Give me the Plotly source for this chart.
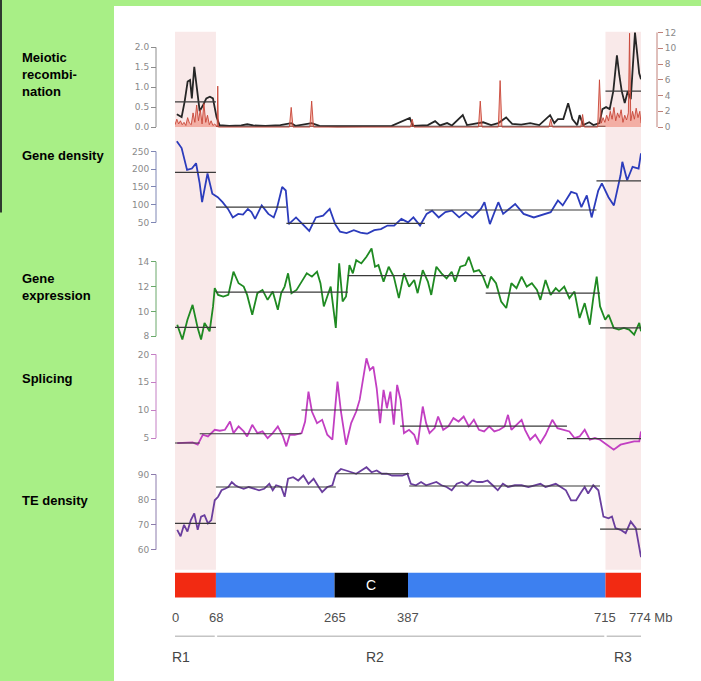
import plotly.graph_objects as go

# ---------------- data ----------------
chrom_bounds = [0, 68, 265, 387, 715, 774]
chrom_colors = ["#f22a12", "#3d80f0", "#000000", "#3d80f0", "#f22a12"]
chrom_tick_vals = [0, 68, 265, 387, 715, 774]
chrom_tick_text = ["0", "68", "265", "387", "715", "774 Mb"]
region_bounds = [0, 68, 715, 774]
region_names = ["R1", "R2", "R3"]
region_label_mb = [10, 332, 744]
centromere_mb = 326
shade_regions = [(0, 68), (715, 774)]

# Meiotic recombination (black line, left axis)
recomb_mb = [3, 8, 11, 16, 21, 25, 28, 32, 37, 41, 47, 52, 58, 63, 69, 74, 90, 110, 120, 130,
             150, 175, 193, 200, 227, 240, 270, 300, 330, 360, 390, 395, 420, 432, 440, 452, 460,
             478, 485, 500, 512, 525, 537, 550, 560, 575, 590, 605, 623, 630, 636, 645, 653, 660,
             668, 672, 678, 688, 695, 705, 710, 716, 722, 728, 734, 738, 742, 747, 752, 757, 761,
             764, 768, 771, 774]
recomb_val = [0.32, 0.28, 0.25, 0.64, 1.14, 1.18, 0.72, 1.51, 0.89, 0.40, 0.56, 0.72, 0.76, 0.72,
              0.25, 0.05, 0.03, 0.04, 0.07, 0.04, 0.03, 0.05, 0.10, 0.03, 0.10, 0.03, 0.02, 0.02,
              0.02, 0.03, 0.23, 0.03, 0.05, 0.15, 0.04, 0.10, 0.04, 0.30, 0.05, 0.08, 0.12, 0.05,
              0.10, 0.24, 0.08, 0.06, 0.10, 0.05, 0.30, 0.10, 0.20, 0.20, 0.60, 0.20, 0.05, 0.30,
              0.05, 0.12, 0.05, 0.10, 0.45, 0.50, 0.45, 0.90, 1.80, 1.30, 0.90, 0.60, 0.90, 0.70,
              1.60, 2.37, 1.80, 1.35, 1.20]
recomb_seg_bounds = [0, 68, 715, 774]
recomb_seg_means = [0.63, 0.02, 0.9]

# Red series (right axis)
red_mb = [0, 3, 6, 9, 12, 15, 18, 21, 24, 27, 30, 33, 36, 39, 42, 45, 48, 51, 54, 57, 60, 63, 66,
          69, 70, 71, 72, 190, 193, 196, 224, 227, 230, 391, 394, 397, 504, 507, 510, 537, 540, 543,
          621, 624, 627, 674, 677, 680, 702, 705, 708, 711, 714, 717, 720, 723, 726, 729, 732, 735,
          738, 741, 744, 747, 750, 753, 755, 757, 760, 763, 766, 769, 772, 774]
red_val = [0.3, 1.0, 0.4, 0.8, 0.3, 0.6, 0.2, 1.2, 0.5, 0.3, 1.8, 0.6, 2.8, 0.8, 2.2, 0.4, 3.0, 0.6,
           1.5, 0.3, 0.8, 0.2, 0.4, 0.0, 0.0, 5.2, 0.0, 0.0, 2.5, 0.0, 0.0, 3.3, 0.0, 0.0, 1.0, 0.0,
           0.0, 3.3, 0.0, 0.0, 5.9, 0.0, 0.0, 1.0, 0.0, 0.0, 1.6, 0.0, 0.0, 6.0, 0.5, 1.2, 0.6, 1.5,
           0.8, 2.0, 1.0, 2.5, 0.8, 1.8, 1.2, 2.2, 0.6, 1.5, 0.9, 1.8, 11.9, 0.8, 2.0, 1.0, 2.4, 1.2,
           2.0, 0.5]

# Gene density
gd_mb = [3, 11, 20, 28, 35, 41, 45, 54, 62, 71, 79, 88, 96, 105, 113, 121, 127, 133, 144, 155,
         164, 169, 178, 184, 189, 201, 209, 223, 234, 246, 257, 266, 274, 285, 297, 308, 319, 331,
         342, 353, 364, 376, 387, 396, 407, 418, 427, 438, 449, 460, 472, 483, 494, 508, 514, 523,
         537, 545, 565, 579, 596, 613, 624, 636, 644, 658, 667, 675, 684, 692, 703, 709, 720, 729,
         740, 743, 751, 760, 770, 774]
gd_val = [279, 260, 198, 202, 217, 160, 107, 188, 131, 121, 107, 88, 64, 74, 72, 88, 79, 60, 98, 74,
          64, 88, 150, 140, 45, 64, 50, 26, 64, 69, 88, 45, 24, 20, 28, 21, 18, 28, 31, 41,
          41, 60, 50, 64, 41, 74, 83, 64, 79, 83, 64, 79, 64, 88, 107, 45, 107, 74, 102, 74,
          64, 74, 79, 112, 98, 136, 131, 93, 126, 64, 140, 160, 121, 98, 183, 221, 169, 207, 202, 245]
gd_seg_bounds = [0, 68, 185, 415, 700, 774]
gd_seg_means = [191, 93, 47, 85, 167]

# Gene expression
ge_mb = [3.7, 12.2, 20.7, 29.2, 37.7, 43.3, 49.0, 57.5, 63.2, 66.0, 71.6, 80.1, 88.6, 97.1, 105.6,
         114.1, 119.8, 128.3, 136.8, 145.3, 153.8, 162.3, 170.8, 176.4, 182.1, 187.8, 193.4, 201.9,
         210.4, 218.9, 227.4, 235.9, 241.6, 247.2, 252.9, 258.6, 267.1, 272.7, 278.4, 284.1, 289.7,
         295.4, 301.0, 309.5, 318.0, 326.5, 332.2, 337.9, 346.4, 354.9, 363.4, 371.8, 380.3, 388.8,
         397.3, 403.0, 411.5, 420.0, 425.6, 434.1, 442.6, 451.1, 459.6, 465.3, 473.8, 482.3, 487.9,
         496.4, 504.9, 510.6, 519.1, 524.7, 533.2, 541.7, 550.2, 558.7, 567.2, 575.7, 584.2, 592.7,
         601.2, 606.9, 615.4, 623.9, 632.4, 638.0, 646.5, 655.0, 663.5, 672.0, 680.5, 689.0, 694.7,
         700.4, 706.0, 714.5, 720.2, 728.7, 737.2, 745.7, 754.2, 762.6, 771.1, 774]
ge_val = [8.93, 7.73, 9.33, 10.53, 8.67, 7.73, 9.07, 8.40, 10.4, 11.87, 11.33, 11.2, 11.33, 13.2,
          12.27, 12.0, 11.33, 9.73, 11.47, 11.73, 10.93, 11.6, 10.13, 11.47, 12.0, 13.07, 11.47,
          11.73, 12.4, 13.07, 12.8, 13.2, 12.27, 10.4, 11.2, 12.0, 8.67, 13.87, 10.8, 11.2, 13.73,
          13.07, 14.13, 13.87, 14.4, 15.07, 13.6, 13.73, 12.4, 13.6, 12.8, 11.07, 13.07, 12.0,
          12.53, 11.47, 13.33, 12.4, 11.33, 13.6, 13.07, 12.67, 13.2, 12.4, 13.6, 13.73, 14.4,
          13.2, 13.33, 12.93, 11.87, 12.8, 12.27, 10.8, 10.27, 12.27, 11.87, 12.8, 12.0, 12.27,
          11.73, 10.93, 12.53, 11.33, 11.87, 11.6, 12.0, 11.07, 11.6, 9.47, 10.67, 8.93, 11.07,
          12.8, 10.4, 9.33, 9.73, 8.67, 8.53, 8.67, 8.53, 8.13, 9.07, 8.4]
ge_seg_bounds = [0, 68, 287, 516, 706, 774]
ge_seg_means = [8.72, 11.55, 12.88, 11.47, 8.67]

# Splicing
sp_mb = [3.7, 15.0, 29.2, 37.7, 46.2, 54.7, 60.3, 66.0, 74.5, 83.0, 91.4, 97.1, 105.6, 114.1, 119.8,
         128.3, 136.8, 145.3, 153.8, 162.3, 170.8, 179.3, 184.9, 190.6, 199.1, 210.4, 216.1, 221.7,
         227.4, 235.9, 244.4, 252.9, 261.4, 269.9, 275.6, 284.1, 292.6, 301.0, 306.7, 312.4, 318.0,
         323.7, 329.4, 335.0, 340.7, 346.4, 352.0, 357.7, 363.4, 369.0, 374.7, 380.3, 388.8, 397.3,
         403.0, 411.5, 417.1, 422.8, 431.3, 437.0, 445.5, 454.0, 462.5, 471.0, 479.5, 488.0, 496.4,
         504.9, 513.4, 521.9, 530.4, 538.9, 547.4, 553.1, 558.7, 567.2, 575.7, 581.4, 589.9, 598.4,
         606.9, 615.4, 626.7, 635.2, 646.5, 655.0, 663.5, 672.0, 680.5, 689.0, 697.5, 706.0, 717.3,
         728.7, 740.0, 751.3, 762.6, 771.1, 774]
sp_val = [4.11, 4.11, 4.23, 3.82, 5.60, 5.30, 5.90, 6.49, 6.32, 6.49, 7.98, 5.90, 7.09, 6.20, 5.30,
          7.39, 5.90, 6.20, 5.01, 5.90, 7.09, 5.30, 3.52, 5.60, 5.60, 5.90, 7.98, 13.34, 9.77, 7.68,
          8.28, 5.60, 4.71, 15.12, 9.77, 3.82, 7.68, 9.77, 11.85, 15.72, 19.29, 17.20, 17.80, 13.93,
          7.68, 13.63, 10.36, 13.34, 7.39, 14.53, 11.85, 5.90, 6.49, 5.60, 3.82, 10.66, 7.68, 5.90,
          6.79, 8.87, 6.49, 7.09, 8.58, 7.98, 8.87, 7.09, 8.28, 6.49, 6.20, 7.09, 6.20, 6.49, 7.09,
          9.17, 6.49, 7.39, 8.28, 6.49, 4.71, 5.60, 4.11, 5.60, 8.28, 6.79, 6.49, 6.20, 5.01, 5.30,
          6.49, 4.71, 5.01, 4.71, 3.82, 2.92, 3.82, 4.11, 4.41, 4.41, 6.20]
sp_seg_bounds = [0, 41, 210, 374, 651, 774]
sp_seg_means = [4.12, 5.78, 10.04, 7.14, 4.89]

# TE density
te_mb = [3.7, 9.3, 15.0, 20.7, 26.3, 32.0, 37.7, 43.3, 49.0, 54.7, 60.3, 66.0, 71.6, 77.3, 83.0,
         88.6, 94.3, 100.0, 105.6, 114.1, 122.6, 131.1, 139.6, 148.1, 156.6, 162.3, 167.9, 176.4,
         182.1, 187.8, 196.3, 204.7, 213.2, 221.7, 230.2, 238.7, 244.4, 252.9, 261.4, 267.1, 275.6,
         284.1, 292.6, 301.0, 309.5, 318.0, 326.5, 335.0, 343.5, 352.0, 360.5, 369.0, 377.5, 386.0,
         391.7, 400.2, 408.7, 417.1, 425.6, 434.1, 442.6, 451.1, 459.6, 468.1, 476.6, 485.1, 493.6,
         502.1, 510.6, 519.1, 527.6, 536.1, 544.6, 553.1, 564.4, 575.7, 587.0, 598.4, 606.9, 615.4,
         623.9, 632.4, 640.8, 649.3, 657.8, 666.3, 674.8, 680.5, 686.2, 694.7, 703.2, 711.6, 720.1,
         725.8, 731.5, 740.0, 748.5, 757.0, 765.4, 770, 774]
te_val = [67.9, 65.3, 69.9, 67.2, 71.8, 74.5, 67.9, 73.2, 73.8, 70.5, 71.8, 79.7, 81.1, 83.7, 84.3,
          85.0, 87.0, 85.7, 85.0, 84.3, 85.0, 84.3, 83.7, 84.3, 86.3, 83.7, 85.7, 85.0, 81.1, 88.3,
          88.9, 87.6, 89.6, 86.3, 88.3, 85.0, 83.0, 85.0, 85.7, 90.3, 92.2, 91.6, 90.9, 90.3, 91.6,
          92.9, 90.9, 91.6, 90.3, 90.3, 89.6, 89.6, 89.6, 90.3, 86.3, 85.7, 87.0, 85.7, 86.3, 87.0,
          85.7, 85.0, 83.7, 86.3, 87.0, 85.7, 87.6, 87.0, 87.0, 87.6, 85.7, 83.7, 86.3, 85.0, 85.7,
          85.7, 85.0, 85.7, 86.3, 85.0, 85.7, 86.3, 85.0, 83.7, 79.7, 79.7, 83.0, 85.0, 82.4, 85.7,
          83.7, 73.2, 72.5, 73.2, 68.6, 67.9, 66.6, 71.2, 68.6, 62.6, 57.0]
te_seg_bounds = [0, 68, 267, 389, 706, 774]
te_seg_means = [70.5, 85.0, 90.3, 85.4, 68.2]

panel_labels = ["Meiotic<br>recombi-<br>nation", "Gene density", "Gene<br>expression",
                "Splicing", "TE density"]

# ---------------- layout helpers ----------------
W, H = 701, 681
GREEN = "#a8ef86"
def fy(px):
    return 1 - px / H
def fx(px):
    return px / W

fig = go.Figure()

def seg_trace(bounds, means, yaxis):
    xs, ys = [], []
    for i, m in enumerate(means):
        xs += [bounds[i], bounds[i + 1], None]
        ys += [m, m, None]
    return go.Scatter(x=xs, y=ys, mode="lines", yaxis=yaxis, hoverinfo="skip",
                      line=dict(color="#3a3a3a", width=1.2), showlegend=False)

# recombination
fig.add_trace(go.Scatter(x=red_mb, y=red_val, yaxis="y2", mode="lines", fill="tozeroy",
                         fillcolor="rgba(235,85,60,0.40)",
                         line=dict(color="rgba(200,70,55,0.9)", width=1), showlegend=False))
fig.add_trace(go.Scatter(x=recomb_mb, y=recomb_val, yaxis="y", mode="lines",
                         line=dict(color="#262626", width=1.8), showlegend=False))
fig.add_trace(seg_trace(recomb_seg_bounds, recomb_seg_means, "y"))

fig.add_trace(go.Scatter(x=gd_mb, y=gd_val, yaxis="y3", mode="lines",
                         line=dict(color="#2c3cbc", width=1.8), showlegend=False))
fig.add_trace(seg_trace(gd_seg_bounds, gd_seg_means, "y3"))

fig.add_trace(go.Scatter(x=ge_mb, y=ge_val, yaxis="y4", mode="lines",
                         line=dict(color="#1f8a22", width=1.8), showlegend=False))
fig.add_trace(seg_trace(ge_seg_bounds, ge_seg_means, "y4"))

fig.add_trace(go.Scatter(x=sp_mb, y=sp_val, yaxis="y5", mode="lines",
                         line=dict(color="#c23fc2", width=1.8), showlegend=False))
fig.add_trace(seg_trace(sp_seg_bounds, sp_seg_means, "y5"))

fig.add_trace(go.Scatter(x=te_mb, y=te_val, yaxis="y6", mode="lines",
                         line=dict(color="#6a3e9e", width=1.8), showlegend=False))
fig.add_trace(seg_trace(te_seg_bounds, te_seg_means, "y6"))

tickfont = dict(family="DejaVu Sans", size=9, color="#8a8a8a")
LEFT_AX = 156
RIGHT_AX = 657

def yax(domain_px, rng, tickvals, ticktext, color, side="left", pos=LEFT_AX, overlay=None):
    d = dict(domain=[fy(domain_px[0]), fy(domain_px[1])], range=rng, anchor="free",
             position=fx(pos), side=side, tickvals=tickvals, ticktext=ticktext,
             showgrid=False, zeroline=False, showline=False, ticks="outside", ticklen=5,
             tickwidth=1, tickcolor=color, tickfont=tickfont, fixedrange=True)
    if overlay:
        d["overlaying"] = overlay
        d.pop("domain")
    return d

axis_specs = {
    "yaxis": ((128, 27.6), [-0.05, 2.45], [0, 0.5, 1, 1.5, 2], ["0.0", "0.5", "1.0", "1.5", "2.0"], "#8c8c8c"),
    "yaxis3": ((234.5, 136.4), [15, 290], [50, 100, 150, 200, 250], None, "#7f86b4"),
    "yaxis4": ((346.7, 241.7), [7.2, 15.6], [8, 10, 12, 14], None, "#6aa86a"),
    "yaxis5": ((456.2, 349.4), [2.0, 21], [5, 10, 15, 20], None, "#c47ec4"),
    "yaxis6": ((564.3, 465.9), [55, 94], [60, 70, 80, 90], None, "#8c7cac"),
}
layout_axes = {}
for name, (dpx, rng, tv, tt, col) in axis_specs.items():
    layout_axes[name] = yax(dpx, rng, tv, tt if tt else [str(v) for v in tv], col)
layout_axes["yaxis2"] = yax((128, 27.6), [-0.25, 12.39], [0, 2, 4, 6, 8, 10, 12],
                            ["0", "2", "4", "6", "8", "10", "12"], "#c08078",
                            side="right", pos=RIGHT_AX, overlay="y")

shapes = []
# green left column and top strip, dark strip at far left
shapes.append(dict(type="rect", xref="paper", yref="paper", x0=-0.05, x1=fx(114), y0=-0.05, y1=1.05,
                   fillcolor=GREEN, line=dict(width=0), layer="below"))
shapes.append(dict(type="rect", xref="paper", yref="paper", x0=fx(113), x1=1.05, y0=fy(4), y1=1.05,
                   fillcolor=GREEN, line=dict(width=0), layer="below"))
shapes.append(dict(type="rect", xref="paper", yref="paper", x0=-0.01, x1=fx(2), y0=fy(212), y1=1.01,
                   fillcolor="#2f3a2f", line=dict(width=0), layer="below"))
# shaded regions
for a, b in shade_regions:
    shapes.append(dict(type="rect", xref="x", yref="paper", x0=a, x1=b, y0=fy(572), y1=fy(30),
                       fillcolor="#f9e9e9", line=dict(width=0), layer="below"))
# spines
spines = [("y", 0, 2, LEFT_AX, "#8c8c8c"), ("y2", 0, 12, RIGHT_AX, "#c08078"),
          ("y3", 50, 250, LEFT_AX, "#7f86b4"), ("y4", 8, 14, LEFT_AX, "#6aa86a"),
          ("y5", 5, 20, LEFT_AX, "#c47ec4"), ("y6", 60, 90, LEFT_AX, "#8c7cac")]
for ref, a, b, pos, col in spines:
    shapes.append(dict(type="line", xref="paper", yref=ref, x0=fx(pos), x1=fx(pos), y0=a, y1=b,
                       line=dict(color=col, width=1)))
# chromosome bar
for i, col in enumerate(chrom_colors):
    shapes.append(dict(type="rect", xref="x", yref="paper", x0=chrom_bounds[i], x1=chrom_bounds[i + 1],
                       y0=fy(600), y1=fy(575), fillcolor=col, line=dict(width=0)))
# region line with small gaps
gap = 2
for i in range(len(region_bounds) - 1):
    a = region_bounds[i] + (gap if i > 0 else 0)
    b = region_bounds[i + 1] - (gap if i < len(region_bounds) - 2 else 0)
    shapes.append(dict(type="line", xref="x", yref="paper", x0=a, x1=b, y0=fy(639), y1=fy(639),
                       line=dict(color="#c4c4c4", width=1.5)))

annotations = []
label_font = dict(family="Liberation Sans, Arial, sans-serif", size=13, color="#000")
label_y = [73, 155, 287, 379, 502]
for txt, y in zip(panel_labels, label_y):
    annotations.append(dict(xref="paper", yref="paper", x=fx(20), y=fy(y), xanchor="left",
                            yanchor="middle", align="left", showarrow=False,
                            text="<b>" + txt + "</b>", font=label_font))
for v, t in zip(chrom_tick_vals, chrom_tick_text):
    if t.endswith("Mb"):
        annotations.append(dict(xref="x", yref="paper", x=v, y=fy(620), xanchor="left", xshift=-14,
                                yanchor="middle", showarrow=False, text=t,
                                font=dict(family="Liberation Sans, Arial", size=13, color="#505050")))
    else:
        annotations.append(dict(xref="x", yref="paper", x=v, y=fy(620), xanchor="center",
                                yanchor="middle", showarrow=False, text=t,
                                font=dict(family="Liberation Sans, Arial", size=13, color="#505050")))
for name, v in zip(region_names, region_label_mb):
    annotations.append(dict(xref="x", yref="paper", x=v, y=fy(660), xanchor="center",
                            yanchor="middle", showarrow=False, text=name,
                            font=dict(family="Liberation Sans, Arial", size=14, color="#454545")))
annotations.append(dict(xref="x", yref="paper", x=centromere_mb, y=fy(587), xanchor="center",
                        yanchor="middle", showarrow=False, text="C",
                        font=dict(family="Liberation Sans, Arial", size=14, color="white")))

fig.update_layout(
    width=W, height=H, margin=dict(l=0, r=0, t=0, b=0),
    paper_bgcolor="white", plot_bgcolor="rgba(0,0,0,0)",
    showlegend=False, hovermode=False,
    xaxis=dict(domain=[fx(175), fx(641)], range=[0, 774], visible=False, fixedrange=True),
    shapes=shapes, annotations=annotations,
    **layout_axes,
)

fig.write_html("out.html", config={"displayModeBar": False},
               post_script="document.body.style.margin='0';document.body.style.overflow='hidden';")
